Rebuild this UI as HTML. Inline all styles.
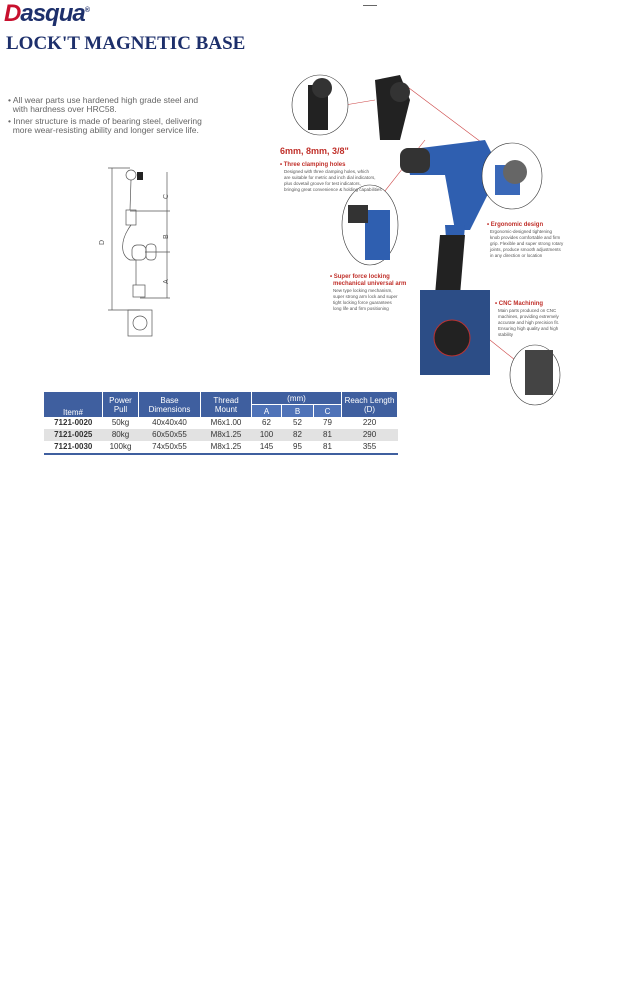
<!DOCTYPE html>
<html><head><meta charset="utf-8"><style>
body{margin:0;width:627px;height:1006px;background:#fff;position:relative;font-family:"Liberation Sans",sans-serif;overflow:hidden}
.a{position:absolute}
table{border-collapse:collapse;font-size:8px;color:#333}
th{background:#3f5f9f;color:#fff;font-weight:normal;font-size:8px;line-height:9px;border-right:1px solid #fff;padding:0;height:12px}
td{text-align:center;height:12px;padding:0;line-height:12px}
tr.g td{background:#e2e2e2}
</style></head><body>
<div class="a" style="left:4px;top:0;font-size:24px;font-style:italic;font-weight:bold;color:#c8102e;letter-spacing:-1px">D<span style="color:#1d2f6b">asqua</span><sup style="font-size:7px;color:#1d2f6b">®</sup></div>
<div class="a" style="left:363px;top:5px;width:14px;border-top:1px solid #666"></div>
<div class="a" style="left:6px;top:33px;font-family:'Liberation Serif',serif;font-weight:bold;font-size:19px;color:#1d2f6b">LOCK'T MAGNETIC BASE</div>
<div class="a" style="left:8px;top:96px;font-size:8.5px;line-height:9px;color:#666;width:215px">
• All wear parts use hardened high grade steel and<br>&nbsp;&nbsp;with hardness over HRC58.<br>
<div style="height:3px"></div>• Inner structure is made of bearing steel, delivering<br>&nbsp;&nbsp;more wear-resisting ability and longer service life.</div>
<svg class="a" style="left:90px;top:160px" width="90" height="190">
<g stroke="#555" fill="none" stroke-width="0.7">
<line x1="22" y1="8" x2="22" y2="150"/><line x1="18" y1="8" x2="40" y2="8"/><line x1="18" y1="150" x2="50" y2="150"/>
<line x1="77" y1="12" x2="77" y2="138"/><line x1="40" y1="51" x2="80" y2="51"/><line x1="55" y1="92" x2="80" y2="92"/><line x1="50" y1="138" x2="80" y2="138"/>
<rect x="36" y="50" width="10" height="15"/><path d="M41 20 L40 50 M41 65 C30 80 30 95 40 100 L46 100 L46 125"/>
<rect x="42" y="85" width="14" height="15" rx="5"/><rect x="56" y="84" width="10" height="16" rx="4"/>
<rect x="43" y="125" width="12" height="12"/><rect x="38" y="150" width="24" height="26"/><circle cx="50" cy="163" r="7"/>
<circle cx="41" cy="15" r="5"/></g>
<rect x="47" y="12" width="6" height="8" fill="#222"/>
<text x="10" y="85" font-size="7" fill="#555" transform="rotate(-90 12 83)">D</text>
<text x="73" y="40" font-size="7" fill="#555" transform="rotate(-90 75 37)">C</text>
<text x="73" y="80" font-size="7" fill="#555" transform="rotate(-90 75 77)">B</text>
<text x="73" y="125" font-size="7" fill="#555" transform="rotate(-90 75 122)">A</text>
</svg>
<svg class="a" style="left:270px;top:60px" width="300" height="350">
<g stroke="#c44" stroke-width="0.6"><line x1="75" y1="45" x2="105" y2="40"/><line x1="100" y1="150" x2="155" y2="80"/><line x1="215" y1="85" x2="135" y2="25"/><line x1="245" y1="300" x2="195" y2="260"/></g>
<ellipse cx="50" cy="45" rx="28" ry="30" fill="#fff" stroke="#333" stroke-width="0.6"/>
<rect x="38" y="25" width="20" height="45" fill="#222"/><circle cx="52" cy="28" r="10" fill="#333"/>
<path d="M105 20 L130 15 L140 40 L130 80 L110 80 Z" fill="#222"/><circle cx="130" cy="32" r="10" fill="#333"/>
<path d="M135 90 L215 80 L230 110 L200 170 L185 170 L175 115 L140 115 Z" fill="#2f5fb0"/>
<rect x="130" y="88" width="30" height="25" rx="8" fill="#333"/>
<path d="M175 165 L195 165 L190 230 L180 230 Z" fill="#2f5fb0"/>
<path d="M170 175 L195 175 L190 235 L165 235 Z" fill="#222"/>
<rect x="150" y="230" width="70" height="85" fill="#2c4d86"/><circle cx="182" cy="278" r="18" fill="#222" stroke="#b33"/>
<ellipse cx="242" cy="116" rx="30" ry="33" fill="#fff" stroke="#333" stroke-width="0.6"/>
<rect x="225" y="105" width="25" height="30" fill="#3a68b8"/><circle cx="245" cy="112" r="12" fill="#666"/>
<ellipse cx="100" cy="165" rx="28" ry="40" fill="#fff" stroke="#333" stroke-width="0.6"/>
<rect x="95" y="150" width="25" height="50" fill="#2f5fb0"/><rect x="78" y="145" width="20" height="18" fill="#333"/>
<ellipse cx="265" cy="315" rx="25" ry="30" fill="#fff" stroke="#333" stroke-width="0.6"/>
<rect x="255" y="290" width="28" height="45" fill="#444"/>
<text x="10" y="94" font-size="9" font-weight="bold" fill="#c0302a">6mm, 8mm, 3/8"</text>
<text x="10" y="106" font-size="6" font-weight="bold" fill="#c0302a">• Three clamping holes</text>
<text x="14" y="113" font-size="4.5" fill="#555">Designed with three clamping holes, which</text>
<text x="14" y="119" font-size="4.5" fill="#555">are suitable for metric and inch dial indicators,</text>
<text x="14" y="125" font-size="4.5" fill="#555">plus dovetail groove for test indicators,</text>
<text x="14" y="131" font-size="4.5" fill="#555">bringing great convenience &amp; holding capabilities</text>
<text x="217" y="166" font-size="6" font-weight="bold" fill="#c0302a">• Ergonomic design</text>
<text x="220" y="173" font-size="4.5" fill="#555">Ergonomic-designed tightening</text>
<text x="220" y="179" font-size="4.5" fill="#555">knob provides comfortable and firm</text>
<text x="220" y="185" font-size="4.5" fill="#555">grip. Flexible and super strong rotary</text>
<text x="220" y="191" font-size="4.5" fill="#555">joints, produce smooth adjustments</text>
<text x="220" y="197" font-size="4.5" fill="#555">in any direction or location</text>
<text x="60" y="218" font-size="6" font-weight="bold" fill="#c0302a">• Super force locking</text>
<text x="63" y="225" font-size="6" font-weight="bold" fill="#c0302a">mechanical universal arm</text>
<text x="63" y="232" font-size="4.5" fill="#555">New type locking mechanism,</text>
<text x="63" y="238" font-size="4.5" fill="#555">super strong arm lock and super</text>
<text x="63" y="244" font-size="4.5" fill="#555">tight locking force guarantees</text>
<text x="63" y="250" font-size="4.5" fill="#555">long life and firm positioning</text>
<text x="225" y="245" font-size="6" font-weight="bold" fill="#c0302a">• CNC Machining</text>
<text x="228" y="252" font-size="4.5" fill="#555">Main parts produced on CNC</text>
<text x="228" y="258" font-size="4.5" fill="#555">machines, providing extremely</text>
<text x="228" y="264" font-size="4.5" fill="#555">accurate and high precision fit.</text>
<text x="228" y="270" font-size="4.5" fill="#555">Ensuring high quality and high</text>
<text x="228" y="276" font-size="4.5" fill="#555">stability</text>
</svg>
<table class="a" style="left:44px;top:392px;width:354px;border-bottom:2px solid #3f5f9f">
<tr><th rowspan="2" style="width:58px;vertical-align:bottom">Item#</th><th rowspan="2" style="width:35px">Power<br>Pull</th><th rowspan="2" style="width:61px">Base<br>Dimensions</th><th rowspan="2" style="width:50px">Thread<br>Mount</th><th colspan="3" style="border-bottom:1px solid #fff">(mm)</th><th rowspan="2">Reach Length<br>(D)</th></tr>
<tr><th style="width:29px;background:#4f73b8">A</th><th style="width:31px;background:#4f73b8">B</th><th style="width:27px;background:#4f73b8">C</th></tr>
<tr><td style="font-weight:bold">7121-0020</td><td>50kg</td><td>40x40x40</td><td>M6x1.00</td><td>62</td><td>52</td><td>79</td><td>220</td></tr>
<tr class="g"><td style="font-weight:bold">7121-0025</td><td>80kg</td><td>60x50x55</td><td>M8x1.25</td><td>100</td><td>82</td><td>81</td><td>290</td></tr>
<tr><td style="font-weight:bold">7121-0030</td><td>100kg</td><td>74x50x55</td><td>M8x1.25</td><td>145</td><td>95</td><td>81</td><td>355</td></tr>
</table>
</body></html>
